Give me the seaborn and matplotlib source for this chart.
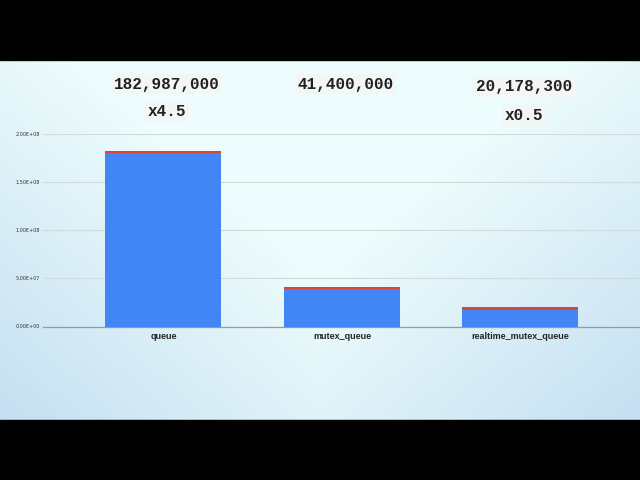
import numpy as np
import pandas as pd
import matplotlib
matplotlib.use("Agg")
import matplotlib.pyplot as plt
import matplotlib.transforms as mtransforms
from matplotlib.ticker import FormatStrFormatter
import seaborn as sns

# data
categories = ["queue", "mutex_queue", "realtime_mutex_queue"]
blue_part = [180900000, 39300000, 16700000]
red_part = [2087000, 2100000, 3478300]
totals_label = ["182,987,000", "41,400,000", "20,178,300"]
ratio_label = ["x4.5", "", "x0.5"]

df = pd.DataFrame({"name": categories, "blue": blue_part, "red": red_part})
df["total"] = df["blue"] + df["red"]

sns.set_style("white")
fig = plt.figure(figsize=(6.4, 4.8), dpi=100)

# soft background gradient
bg = fig.add_axes([0, 0, 1, 1], zorder=-10)
yy, xx = np.mgrid[0:1:200j, 0:1:200j]
base = np.array([0.93, 0.99, 0.99])
edge = np.array([0.78, 0.88, 0.95])
d = np.clip((np.abs(xx - 0.5) * 1.4 + yy * 1.2 - 0.7), 0, 1)[..., None]
img = base * (1 - d) + edge * d
bg.imshow(img, extent=[0, 1, 0, 1], aspect="auto", origin="upper")
bg.add_patch(plt.Rectangle((0, 0), 1, 60 / 480, color="black"))
bg.add_patch(plt.Rectangle((0, 420 / 480), 1, 60 / 480, color="black"))
bg.set_xlim(0, 1)
bg.set_ylim(0, 1)
bg.axis("off")

ax = fig.add_axes([43 / 640, 153.5 / 480, 597 / 640, 192.2 / 480])
ax.patch.set_alpha(0)
sns.barplot(data=df, x="name", y="total", color="#db4437", width=0.65,
            saturation=1, linewidth=0, edgecolor="none", ax=ax, zorder=3)
sns.barplot(data=df, x="name", y="blue", color="#4285f4", width=0.65,
            saturation=1, linewidth=0, edgecolor="none", ax=ax, zorder=4)

ax.set_xlim(-0.675, 2.67)
ax.set_ylim(0, 2e8)
ax.set_yticks([0, 5e7, 1e8, 1.5e8, 2e8])
ax.yaxis.set_major_formatter(FormatStrFormatter("%.2E"))
ax.tick_params(axis="y", labelsize=3.5, length=0, pad=2, labelcolor="#333333")
ax.tick_params(axis="x", length=0, pad=4)
for lbl in ax.get_xticklabels():
    lbl.set_fontsize(6.5)
    lbl.set_fontweight("bold")
    lbl.set_family("Liberation Sans")
ax.set_xlabel("")
ax.set_ylabel("")
ax.grid(axis="y", color="#d3dadc", linewidth=0.8, zorder=0)
ax.set_axisbelow(True)
for side in ["top", "right", "left"]:
    ax.spines[side].set_visible(False)
ax.spines["bottom"].set_color("#999999")
ax.spines["bottom"].set_linewidth(0.9)

trans = mtransforms.blended_transform_factory(ax.transData, fig.transFigure)
box = dict(boxstyle="square,pad=0.15", facecolor="#f4f5f5", edgecolor="none")
y_top = [396 / 480, 396 / 480, 393 / 480]
y_low = [368 / 480, 368 / 480, 365 / 480]
for i in range(len(categories)):
    ax.text(i + 0.02, y_top[i], totals_label[i], transform=trans, ha="center",
            va="center", fontsize=11.5, fontweight="bold",
            family="Liberation Mono", bbox=box, color="#222222")
    if ratio_label[i]:
        ax.text(i + 0.02, y_low[i], ratio_label[i], transform=trans, ha="center",
                va="center", fontsize=11.5, fontweight="bold",
                family="Liberation Mono", bbox=box, color="#222222")

fig.savefig("out.png", dpi=100)
